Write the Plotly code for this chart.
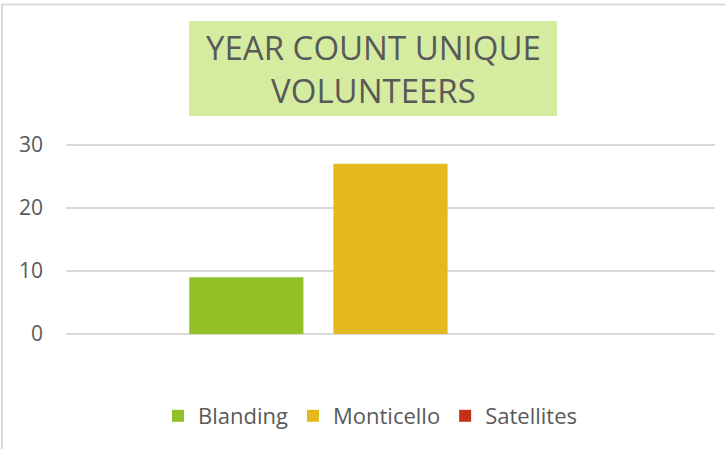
import plotly.graph_objects as go

categories = ["Year"]
series_names = ["Blanding", "Monticello", "Satellites"]
series_values = [[9], [27], [0]]
series_colors = ["#91c127", "#e4b81f", "#c4301a"]
tick_values = [0, 10, 20, 30]
title_lines = ["YEAR COUNT UNIQUE", "VOLUNTEERS"]

W, H = 725, 449
ml, mr, mt, mb = 66, 10, 138, 115
pw = W - ml - mr
ph = H - mt - mb
ymax = 30 * ph / 189.3

def px(xpix):
    return (xpix - ml) / pw

def py(ypix):
    return (H - mb - ypix) / ph

fig = go.Figure()
for name, vals, col in zip(series_names, series_values, series_colors):
    fig.add_trace(go.Bar(x=categories, y=vals, name=name,
                         marker=dict(color=col, line=dict(width=0))))

fig.update_layout(
    width=W, height=H,
    margin=dict(l=ml, r=mr, t=mt, b=mb),
    paper_bgcolor="white", plot_bgcolor="white",
    barmode="group", bargap=0.3336, bargroupgap=0.208,
    font=dict(family="Open Sans", color="#595959"),
    showlegend=True,
    legend=dict(orientation="h", x=px(370), xanchor="center", y=py(416), yanchor="middle",
                font=dict(size=22, color="#595959"), itemclick=False,
                traceorder="normal"),
    xaxis=dict(showticklabels=False, showgrid=False, zeroline=False, showline=False,
               ticks=""),
    yaxis=dict(range=[0, ymax], tickvals=tick_values, showgrid=True, gridcolor="#d9d9d9",
               gridwidth=2, zeroline=True, zerolinecolor="#d9d9d9", zerolinewidth=2,
               showline=False, ticks="", tickfont=dict(size=21, color="#595959"),
               ticklabelstandoff=22),
    shapes=[
        dict(type="rect", xref="paper", yref="paper",
             x0=px(2), x1=px(740), y0=py(460), y1=py(4.5),
             line=dict(color="#d9d9d9", width=2), fillcolor="rgba(0,0,0,0)", layer="below"),
        dict(type="rect", xref="paper", yref="paper",
             x0=px(189), x1=px(557), y0=py(116), y1=py(21),
             line=dict(width=0), fillcolor="#d5eca0", layer="below"),
    ],
    annotations=[
        dict(text="<br>".join(title_lines), xref="paper", yref="paper",
             x=px(373), y=py(68.5), xanchor="center", yanchor="middle",
             showarrow=False, font=dict(size=33, color="#595959", family="Open Sans")),
    ],
)

fig.write_html("out.html", config={"displayModeBar": False},
               post_script="document.body.style.margin='0';document.body.style.padding='0';")
